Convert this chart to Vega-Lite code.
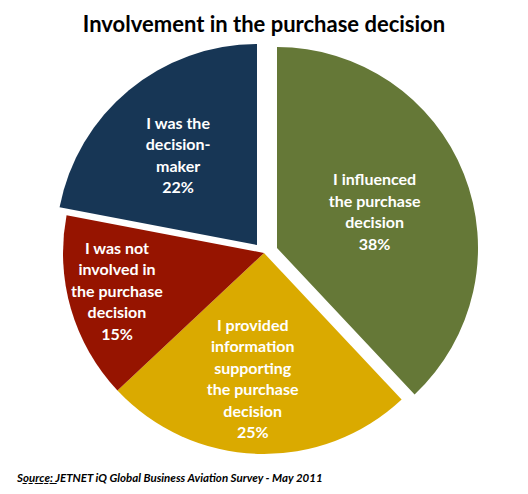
{
  "$schema": "https://vega.github.io/schema/vega-lite/v6.json",
  "padding": {"left": 0, "top": 14, "right": 0, "bottom": 0},
  "background": "white",
  "title": {"text": "Involvement in the purchase decision", "font": "Lato", "fontSize": 22, "fontWeight": "bold", "color": "black", "anchor": "middle", "offset": 7},
  "datasets": {
    "slices": [
      {"slice": "I influenced the purchase decision", "pct": 38, "order": 1, "lines": ["I influenced", "the purchase", "decision", "38%"]},
      {"slice": "I provided information supporting the purchase decision", "pct": 25, "order": 2, "lines": ["I provided", "information", "supporting", "the purchase", "decision", "25%"]},
      {"slice": "I was not involved in the purchase decision", "pct": 15, "order": 3, "lines": ["I was not", "involved in", "the purchase", "decision", "15%"]},
      {"slice": "I was the decision-maker", "pct": 22, "order": 4, "lines": ["I was the", "decision-", "maker", "22%"]}
    ]
  },
  "config": {"view": {"stroke": null}},
  "spacing": 44,
  "bounds": "flush",
  "vconcat": [
    {
      "width": 528,
      "height": 374,
      "data": {"name": "slices"},
      "encoding": {
        "theta": {"field": "pct", "type": "quantitative", "stack": true},
        "order": {"field": "order", "type": "quantitative"}
      },
      "layer": [
        {"mark": {"type": "arc", "radius": 201, "xOffset": 13, "yOffset": -5},
         "encoding": {"color": {"field": "slice", "type": "nominal", "legend": null,
           "scale": {"domain": ["I influenced the purchase decision", "I provided information supporting the purchase decision", "I was not involved in the purchase decision", "I was the decision-maker"], "range": ["#657837", "#DAAA00", "#961400", "#173655"]}},
           "opacity": {"condition": {"test": "datum.order == 1", "value": 1}, "value": 0}}},
        {"mark": {"type": "arc", "radius": 201},
         "encoding": {"color": {"field": "slice", "type": "nominal", "legend": null},
           "opacity": {"condition": {"test": "datum.order == 2 || datum.order == 3", "value": 1}, "value": 0}}},
        {"mark": {"type": "arc", "radius": 201, "xOffset": -7, "yOffset": -8},
         "encoding": {"color": {"field": "slice", "type": "nominal", "legend": null},
           "opacity": {"condition": {"test": "datum.order == 4", "value": 1}, "value": 0}}},
        {"mark": {"type": "text", "radius": 105, "xOffset": 13, "yOffset": -5, "dy": -29, "font": "Lato", "fontSize": 16, "fontWeight": "bold", "fill": "white", "lineHeight": 21.5, "align": "center", "baseline": "middle"},
         "encoding": {"text": {"field": "lines", "type": "nominal"},
           "opacity": {"condition": {"test": "datum.order == 1", "value": 1}, "value": 0}}},
        {"mark": {"type": "text", "radius": 73, "dx": -9, "font": "Lato", "fontSize": 16, "fontWeight": "bold", "fill": "white", "lineHeight": 21.5, "align": "center", "baseline": "middle"},
         "encoding": {"text": {"field": "lines", "type": "nominal"},
           "opacity": {"condition": {"test": "datum.order == 2", "value": 1}, "value": 0}}},
        {"mark": {"type": "text", "radius": 150, "dx": -3, "dy": -46, "font": "Lato", "fontSize": 16, "fontWeight": "bold", "fill": "white", "lineHeight": 21.5, "align": "center", "baseline": "middle"},
         "encoding": {"text": {"field": "lines", "type": "nominal"},
           "opacity": {"condition": {"test": "datum.order == 3", "value": 1}, "value": 0}}},
        {"mark": {"type": "text", "radius": 130, "xOffset": -7, "yOffset": -8, "dx": 4, "dy": -21, "font": "Lato", "fontSize": 16, "fontWeight": "bold", "fill": "white", "lineHeight": 21.5, "align": "center", "baseline": "middle"},
         "encoding": {"text": {"field": "lines", "type": "nominal"},
           "opacity": {"condition": {"test": "datum.order == 4", "value": 1}, "value": 0}}}
      ]
    },
    {
      "width": 528,
      "height": 1,
      "data": {"values": []},
      "mark": "text",
      "title": {"text": "S̲o̲u̲r̲c̲e̲:̲ JETNET iQ Global Business Aviation Survey - May 2011", "font": "Lato", "fontSize": 11.5, "fontWeight": "bold", "fontStyle": "italic", "color": "black", "anchor": "start", "dx": 17, "offset": 0}
    }
  ]
}
